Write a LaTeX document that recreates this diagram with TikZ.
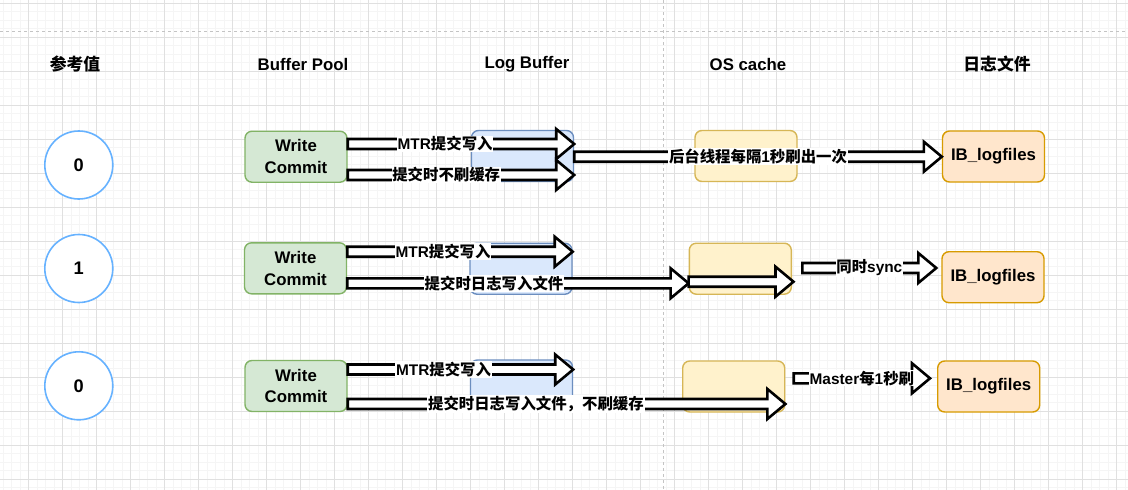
\documentclass[tikz,border=0pt]{standalone}
\usepackage{fontspec}
\setmainfont{Liberation Sans}
\newfontfamily\cjk{Noto Sans CJK SC}
\usetikzlibrary{calc}
\definecolor{gridminor}{HTML}{F5F5F5}
\definecolor{gridmajor}{HTML}{E0E0E0}
\definecolor{dashgray}{HTML}{C4C4C4}
\definecolor{wcfill}{HTML}{D5E8D4}
\definecolor{wcdraw}{HTML}{82B366}
\definecolor{lbfill}{HTML}{DAE8FC}
\definecolor{lbdraw}{HTML}{6C8EBF}
\definecolor{osfill}{HTML}{FFF2CC}
\definecolor{osdraw}{HTML}{D6B656}
\definecolor{ibfill}{HTML}{FFE6CC}
\definecolor{ibdraw}{HTML}{D79B00}
\definecolor{circdraw}{HTML}{66B2FF}
\newcommand\zh[1]{{\cjk #1}}
\newcommand\flexarr[2]{%
  \draw[flexarrow] ($(#1)+(0,-5)$) -- ($(#2)+(-18,-5)$) -- ($(#2)+(-18,-15)$) -- (#2)
    -- ($(#2)+(-18,15)$) -- ($(#2)+(-18,5)$) -- ($(#1)+(0,5)$) -- cycle;}
\begin{document}
\begin{tikzpicture}[x=1pt,y=-1pt,
  box/.style={rounded corners=7pt, minimum width=102pt, minimum height=51pt, line width=1.4pt,
    font=\fontsize{16.8}{21.5}\selectfont\bfseries, align=center, inner sep=0pt},
  wcbox/.style={box, fill=wcfill, draw=wcdraw},
  lbbox/.style={box, fill=lbfill, draw=lbdraw},
  osbox/.style={box, fill=osfill, draw=osdraw},
  ibbox/.style={box, fill=ibfill, draw=ibdraw},
  circ/.style={circle, minimum size=68pt, inner sep=0pt, draw=circdraw, fill=white, line width=1.6pt,
    font=\fontsize{18.2}{20}\selectfont\bfseries},
  head/.style={font=\fontsize{16.8}{20}\selectfont\bfseries, inner sep=0pt},
  lbl/.style={fill=white, inner sep=0.8pt, font=\fontsize{15.4}{18}\selectfont\bfseries},
  flexarrow/.style={draw=black, fill=white, line width=2.6pt, line join=miter},
  guide/.style={draw=dashgray, line width=0.9pt, dash pattern=on 3pt off 3pt}
]
\useasboundingbox (0,0) rectangle (1128,490);
\begin{scope}
  \clip (0,0) rectangle (1128,490);
  \fill[white] (0,0) rectangle (1128,490);
  \foreach \i in {-3,...,129} \draw[gridminor, line width=0.9pt] ({28.7+8.5*\i},0) -- ({28.7+8.5*\i},490);
  \foreach \j in {0,...,57} \draw[gridminor, line width=0.9pt] (0,{3.3+8.5*\j}) -- (1128,{3.3+8.5*\j});
  \foreach \i in {0,...,32} \draw[gridmajor, line width=0.9pt] ({28.7+34*\i},0) -- ({28.7+34*\i},490);
  \foreach \j in {0,...,14} \draw[gridmajor, line width=0.9pt] (0,{3.3+34*\j}) -- (1128,{3.3+34*\j});
  \coordinate (gtl) at (0,31);
  \coordinate (gtr) at (1128,31);
  \coordinate (gvt) at (663,0);
  \coordinate (gvb) at (663,490);
  \draw[guide] (gtl) -- (gtr);
  \draw[guide] (gvt) -- (gvb);
\end{scope}

% headers
\node[head] (h0) at (75,64) {\zh{参考值}};
\node[head] (h1) at (303,64) {Buffer Pool};
\node[head] (h2) at (527,64) {Log Buffer};
\node[head] (h3) at (748,64) {OS cache};
\node[head] (h4) at (997,64) {\zh{日志文件}};

% circles
\node[circ] (c1) at (78.8,165) {0};
\node[circ] (c2) at (78.8,268.5) {1};
\node[circ] (c3) at (78.8,385.8) {0};

% row 1
\node[wcbox] (wc1) at (296,156.7) {Write\\Commit};
\node[lbbox] (lb1) at (522.5,156) {};
\node[osbox] (os1) at (746,156) {};
\node[ibbox] (ib1) at (993.5,156.5) {IB\_logfiles};
% row 2
\node[wcbox] (wc2) at (295.5,268.3) {Write\\Commit};
\node[lbbox] (lb2) at (521,268.7) {};
\node[osbox] (os2) at (740.3,268.7) {};
\node[ibbox] (ib2) at (993,277.2) {IB\_logfiles};
% row 3
\node[wcbox] (wc3) at (296,386) {Write\\Commit};
\node[lbbox] (lb3) at (521.5,385.5) {};
\node[osbox] (os3) at (733.7,386.5) {};
\node[ibbox] (ib3) at (988.7,386.5) {IB\_logfiles};

% arrow end points
\coordinate (a11s) at ([yshift=12.7pt]wc1.east);
\coordinate (a11e) at (lb1.east |- a11s);
\coordinate (a12s) at ([yshift=-18.3pt]wc1.east);
\coordinate (a12e) at (lb1.east |- a12s);
\coordinate (a13s) at ([yshift=-0.7pt]lb1.east);
\coordinate (a13e) at (ib1.west |- a13s);

\coordinate (a21s) at ([yshift=16.6pt]wc2.east);
\coordinate (a21e) at (lb2.east |- a21s);
\coordinate (a22s) at ([yshift=-15pt]wc2.east);
\coordinate (a22e) at (os2.west |- a22s);
\coordinate (a23s) at ([yshift=-13pt]os2.west);
\coordinate (a23e) at ($(os2.east |- a23s)+(1.5,0)$);
\coordinate (a24s) at ([xshift=10.4pt,yshift=0.7pt]os2.east);
\coordinate (a24e) at ($(ib2.west |- a24s)+(-5,0)$);

\coordinate (a31s) at ([yshift=16.5pt]wc3.east);
\coordinate (a31e) at (lb3.east |- a31s);
\coordinate (a32s) at ([yshift=-18pt]wc3.east);
\coordinate (a32e) at (os3.east |- a32s);
\coordinate (a33s) at ([xshift=8.3pt,yshift=8.2pt]os3.east);
\coordinate (a33e) at ($(ib3.west |- a33s)+(-7,0)$);

% arrows
\flexarr{a11s}{a11e}
\flexarr{a12s}{a12e}
\flexarr{a13s}{a13e}
\flexarr{a21s}{a21e}
\flexarr{a22s}{a22e}
\flexarr{a23s}{a23e}
\flexarr{a24s}{a24e}
\flexarr{a31s}{a31e}
\flexarr{a32s}{a32e}
\flexarr{a33s}{a33e}

% labels
\path (a11s) -- (a11e) node[lbl, pos=0.43] (l11) {MTR\zh{提交写入}};
\path (a12s) -- (a12e) node[lbl, pos=0.435] (l12) {\zh{提交时不刷缓存}};
\path (a13s) -- (a13e) node[lbl, pos=0.5] (l13) {\zh{后台线程每隔}1\zh{秒刷出一次}};
\path (a21s) -- (a21e) node[lbl, pos=0.425] (l21) {MTR\zh{提交写入}};
\path (a22s) -- (a22e) node[lbl, pos=0.43] (l22) {\zh{提交时日志写入文件}};
\path (a24s) -- (a24e) node[lbl, pos=0.5] (l24) {\zh{同时}sync};
\path (a31s) -- (a31e) node[lbl, pos=0.425] (l31) {MTR\zh{提交写入}};
\path (a32s) -- (a32e) node[lbl, pos=0.43] (l32) {\zh{提交时日志写入文件，不刷缓存}};
\path (a33s) -- (a33e) node[lbl, pos=0.5] (l33) {Master\zh{每}1\zh{秒刷}};
\end{tikzpicture}
\end{document}
